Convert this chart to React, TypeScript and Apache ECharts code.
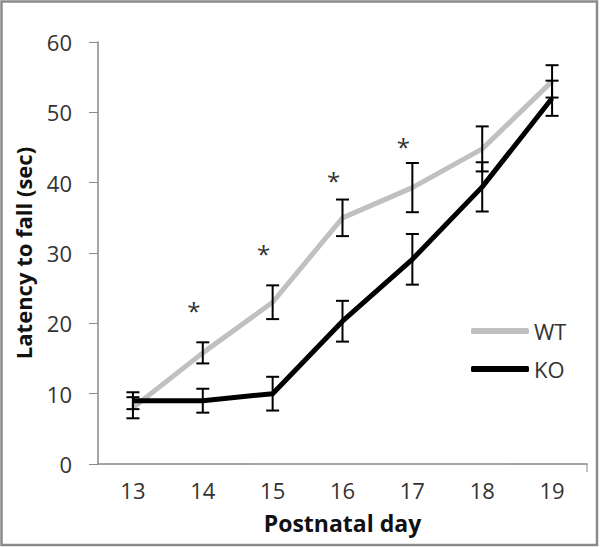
import React, { useEffect, useRef } from "react";
import * as echarts from "echarts";

const days = ["13", "14", "15", "16", "17", "18", "19"];
const wtMean = [8.0, 15.8, 23.0, 35.0, 39.3, 44.8, 54.4];
const wtErr = [1.5, 1.5, 2.4, 2.6, 3.5, 3.2, 2.3];
const koMean = [9.0, 9.0, 10.0, 20.3, 29.1, 39.4, 52.0];
const koErr = [1.2, 1.7, 2.4, 2.9, 3.6, 3.5, 2.5];
const sigDayIdx = [1, 2, 3, 4];
const sigY = [22.2, 30.4, 40.8, 45.6];
const yTicks = [0, 10, 20, 30, 40, 50, 60];

const FONT = "'Open Sans', 'Noto Sans', sans-serif";

function errData(mean: number[], err: number[]) {
  return mean.map((m, i) => [i, m - err[i], m + err[i]]);
}

function errRender(params: any, api: any) {
  const i = api.value(0);
  const lo = api.coord([i, api.value(1)]);
  const hi = api.coord([i, api.value(2)]);
  const half = 6.5;
  const style = { stroke: "#000", lineWidth: 2 };
  return {
    type: "group",
    children: [
      { type: "line", shape: { x1: hi[0], y1: hi[1], x2: lo[0], y2: lo[1] }, style },
      { type: "line", shape: { x1: hi[0] - half, y1: hi[1], x2: hi[0] + half, y2: hi[1] }, style },
      { type: "line", shape: { x1: lo[0] - half, y1: lo[1], x2: lo[0] + half, y2: lo[1] }, style },
    ],
  };
}

export default function App() {
  const ref = useRef<HTMLDivElement>(null);
  useEffect(() => {
    document.body.style.margin = "0";
    const chart = echarts.init(ref.current!, null, { renderer: "svg" });
    chart.setOption({
      animation: false,
      backgroundColor: "#fff",
      graphic: [
        {
          type: "rect",
          shape: { x: 1.5, y: 1.5, width: 595.5, height: 543.5 },
          style: { fill: "none", stroke: "#8a8a8a", lineWidth: 2.5 },
          z: 100,
        },
        {
          type: "line",
          shape: { x1: 587, y1: 464, x2: 587, y2: 472 },
          style: { stroke: "#888", lineWidth: 1 },
          z: 100,
        },
      ],
      grid: { left: 98, right: 13, top: 42, bottom: 83 },
      legend: {
        data: ["WT", "KO"],
        orient: "vertical",
        left: 466,
        top: 315,
        itemWidth: 58,
        itemHeight: 6,
        itemGap: 16,
        icon: "roundRect",
        textStyle: { fontFamily: FONT, fontSize: 22, color: "#333" },
      },
      xAxis: {
        type: "category",
        data: days,
        boundaryGap: true,
        name: "Postnatal day",
        nameLocation: "middle",
        nameGap: 47,
        nameTextStyle: { fontFamily: FONT, fontSize: 23, fontWeight: "bold", color: "#111" },
        axisLine: { lineStyle: { color: "#888", width: 1.5 } },
        axisTick: { alignWithLabel: true, length: 8, lineStyle: { color: "#888" } },
        axisLabel: { fontFamily: FONT, fontSize: 22, color: "#333", margin: 15 },
        splitLine: { show: false },
      },
      yAxis: {
        type: "value",
        min: 0,
        max: 60,
        interval: 10,
        name: "Latency to fall (sec)",
        nameLocation: "middle",
        nameGap: 64,
        nameTextStyle: { fontFamily: FONT, fontSize: 22, fontWeight: "bold", color: "#111" },
        axisLine: { show: true, lineStyle: { color: "#888", width: 1.5 } },
        axisTick: { show: true, length: 9, lineStyle: { color: "#888" } },
        axisLabel: {
          fontFamily: FONT,
          fontSize: 22,
          color: "#333",
          margin: 26,
          formatter: (v: number) => (yTicks.includes(v) ? String(v) : ""),
        },
        splitLine: { show: false },
      },
      series: [
        {
          name: "WT",
          type: "line",
          data: wtMean,
          symbol: "none",
          lineStyle: { color: "#c0c0c0", width: 5 },
          itemStyle: { color: "#c0c0c0" },
          z: 2,
        },
        {
          name: "WT err",
          type: "custom",
          data: errData(wtMean, wtErr),
          encode: { x: 0, y: [1, 2] },
          renderItem: errRender,
          z: 3,
        },
        {
          name: "KO",
          type: "line",
          data: koMean,
          symbol: "none",
          lineStyle: { color: "#000", width: 5 },
          itemStyle: { color: "#000" },
          z: 4,
        },
        {
          name: "KO err",
          type: "custom",
          data: errData(koMean, koErr),
          encode: { x: 0, y: [1, 2] },
          renderItem: errRender,
          z: 5,
        },
        {
          name: "sig",
          type: "custom",
          data: sigDayIdx.map((d, i) => [d, sigY[i]]),
          encode: { x: 0, y: 1 },
          renderItem: (params: any, api: any) => {
            const p = api.coord([api.value(0), api.value(1)]);
            return {
              type: "text",
              x: p[0] - 9,
              y: p[1] + 3,
              style: {
                text: "*",
                font: `24px ${FONT}`,
                fill: "#333",
                align: "center",
                verticalAlign: "middle",
              },
            };
          },
          z: 6,
        },
      ],
    });
    return () => chart.dispose();
  }, []);
  return <div ref={ref} style={{ width: 600, height: 547 }} />;
}
